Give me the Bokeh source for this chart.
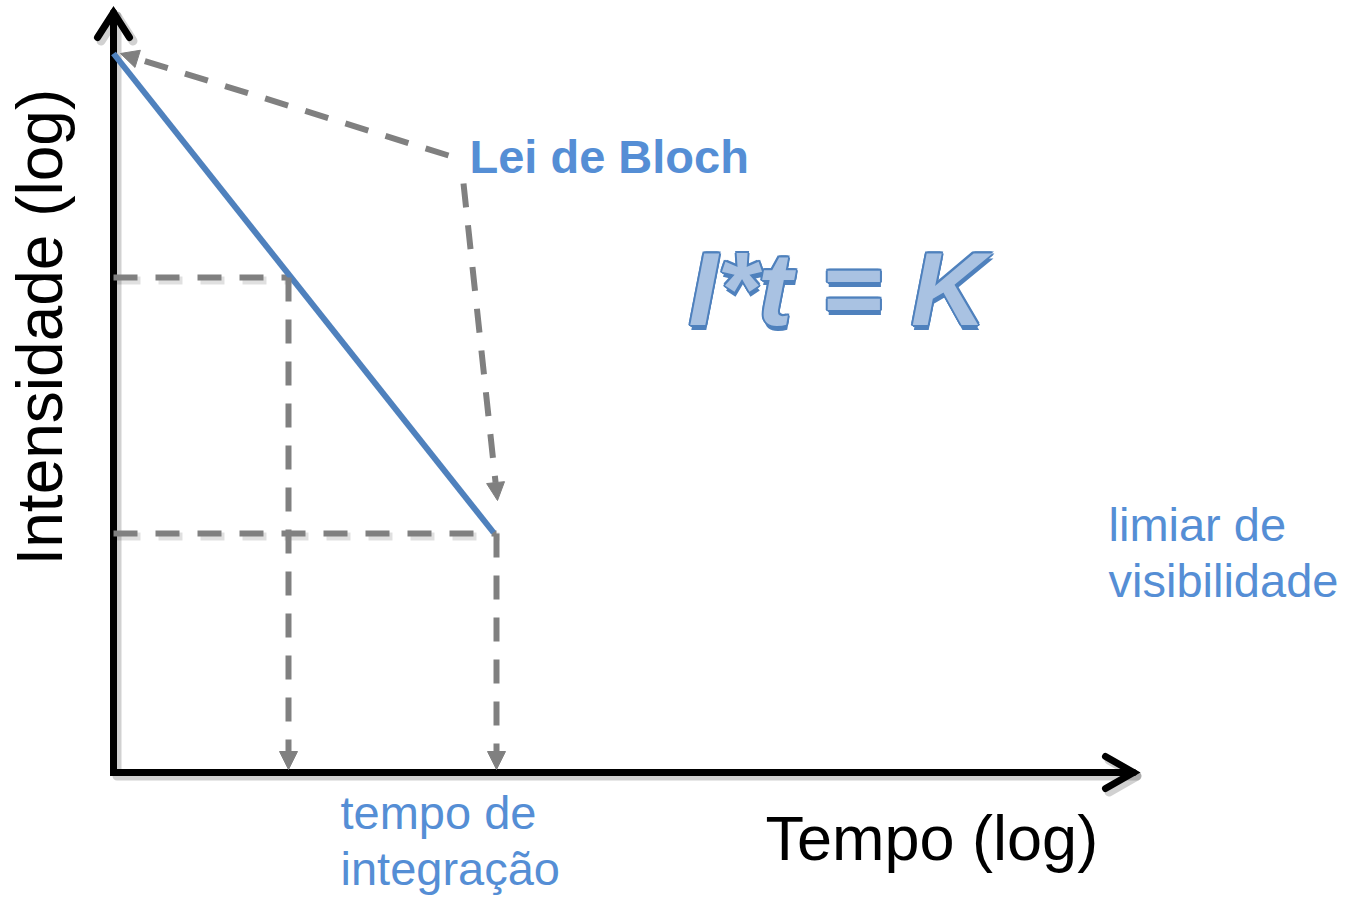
from bokeh.plotting import figure
from bokeh.models import Range1d, Arrow, NormalHead
from bokeh.core.properties import value
from bokeh.embed import file_html
from bokeh.resources import INLINE

# ---- diagram values (log units, origin at axes corner) ----
t_line = [0.0, 3.80]          # log tempo along the Bloch line
I_line = [7.19, 2.40]         # log intensidade along the Bloch line
I_levels = [4.95, 2.39]       # intensity levels (dashed horizontals)
t_levels = [1.75, 3.83]       # integration times (dashed verticals)
axis_x_end = 10.20
axis_y_end = 7.60
# arrows from the "Lei de Bloch" label
bloch_start_x = [3.35, 3.50]
bloch_start_y = [6.17, 5.89]
bloch_end_x = [0.07, 3.84]
bloch_end_y = [7.19, 2.72]

labels = ["Lei de Bloch", "limiar de", "visibilidade", "tempo de", "integração", "Tempo (log)"]
label_x = [3.56, 9.95, 9.95, 2.27, 2.27, 6.52]
label_y = [6.16, 2.48, 1.92, -0.40, -0.96, -0.65]
formula = "I*t = K"
formula_x = 5.75
formula_y = 4.26
ylabel = "Intensidade (log)"
ylabel_x = -0.74
ylabel_y = 2.07

BLUE_LINE = "#4F81BD"
BLUE_TEXT = "#558ED5"
GRAY = "#808080"
FONT = "Liberation Sans"

p = figure(width=1351, height=898, x_range=Range1d(-1.13, 12.38), y_range=Range1d(-1.26, 7.72),
           x_axis_type=None, y_axis_type=None, toolbar_location=None, output_backend="svg",
           min_border=0, outline_line_color=None)
p.grid.visible = False
p.background_fill_color = "white"

# ---- axes (with soft shadow) ----
ax_xs = [[0, 0, axis_x_end], [-0.16, 0, 0.16], [axis_x_end - 0.28, axis_x_end, axis_x_end - 0.28]]
ax_ys = [[axis_y_end, 0, 0], [axis_y_end - 0.25, axis_y_end, axis_y_end - 0.25], [0.16, 0, -0.16]]
sh = 0.035
p.multi_line([[v + sh for v in xs] for xs in ax_xs], [[v - sh for v in ys] for ys in ax_ys],
             line_color="black", line_alpha=0.18, line_width=9, line_cap="round", line_join="round")
p.multi_line(ax_xs, ax_ys, line_color="black", line_width=7, line_cap="round", line_join="miter")

# ---- dashed guides ----
dash = "24 18"
for lvl, t in zip(I_levels, t_levels):
    p.line([0.03, t + 0.03], [lvl - 0.03, lvl - 0.03], line_color="black", line_alpha=0.12,
           line_width=8, line_dash=dash)
    p.line([0.0, t], [lvl, lvl], line_color=GRAY, line_width=6, line_dash=dash)

head = dict(size=18, fill_color=GRAY, line_color=GRAY, line_width=1)
for lvl, t in zip(I_levels, t_levels):
    p.add_layout(Arrow(x_start=t, y_start=lvl, x_end=t, y_end=0.03,
                       line_color=GRAY, line_width=6, line_dash=dash, end=NormalHead(**head)))

for xs, ys, xe, ye in zip(bloch_start_x, bloch_start_y, bloch_end_x, bloch_end_y):
    p.add_layout(Arrow(x_start=xs, y_start=ys, x_end=xe, y_end=ye,
                       line_color=GRAY, line_width=6, line_dash=dash, end=NormalHead(**head)))

# ---- Bloch line ----
p.line(t_line, I_line, line_color=BLUE_LINE, line_width=6)

# ---- texts ----
p.text([label_x[0]], [label_y[0]], text=[labels[0]], text_font=value(FONT), text_font_style="bold",
       text_font_size="47px", text_color=BLUE_TEXT, text_baseline="alphabetic", text_align="left")
p.text(label_x[1:5], label_y[1:5], text=labels[1:5], text_font=value(FONT),
       text_font_size="47px", text_color=BLUE_TEXT, text_baseline="alphabetic", text_align="left")
p.text([label_x[5]], [label_y[5]], text=[labels[5]], text_font=value(FONT),
       text_font_size="63px", text_color="black", text_baseline="alphabetic", text_align="left")
p.text([ylabel_x], [ylabel_y], text=[ylabel], angle=1.5707963, text_font=value(FONT),
       text_font_size="64px", text_color="black", text_baseline="alphabetic", text_align="left")

# formula: shadow, outline, light "patterned" fill
fs = "104px"
p.text([formula_x + 0.01], [formula_y - 0.05], text=[formula], text_font=value(FONT),
       text_font_style="bold italic", text_font_size=fs, text_color=BLUE_LINE)
for dx, dy in [(-0.02, 0), (0.02, 0), (0, 0.02), (0, -0.02), (-0.015, 0.015), (0.015, -0.015),
               (0.015, 0.015), (-0.015, -0.015)]:
    p.text([formula_x + dx], [formula_y + dy], text=[formula], text_font=value(FONT),
           text_font_style="bold italic", text_font_size=fs, text_color=BLUE_LINE)
p.text([formula_x], [formula_y], text=[formula], text_font=value(FONT),
       text_font_style="bold italic", text_font_size=fs, text_color="#A9C2E2")

open("out.html", "w").write(file_html(p, INLINE))
